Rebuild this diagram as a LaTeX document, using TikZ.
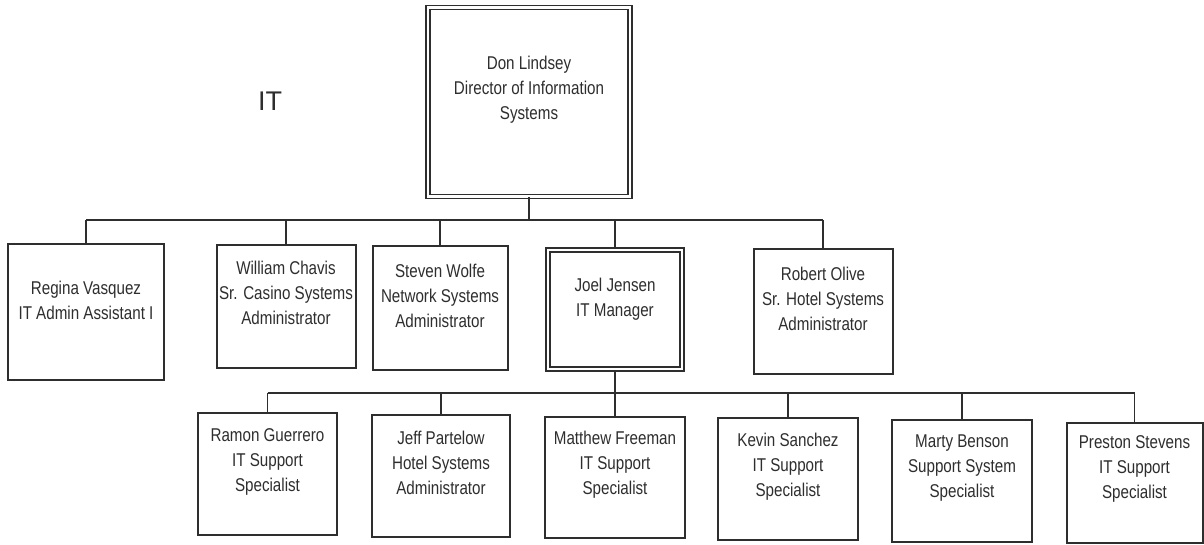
\documentclass[tikz,border=0pt]{standalone}
\usepackage{fontspec}
\newfontfamily\narrowsans[FakeStretch=0.82]{Liberation Sans}
\newfontfamily\plainsans{Liberation Sans}
\definecolor{ink}{HTML}{2E2E2E}
\begin{document}
\begin{tikzpicture}[x=1pt,y=-1pt,
  box/.style={draw=ink, line width=2pt, rectangle, inner sep=0pt},
  boss/.style={draw=ink, line width=1.7pt, double=white, double distance=2.4pt, rectangle, inner sep=0pt},
  txt/.style={align=center, inner sep=0pt, text=ink, font=\narrowsans\fontsize{18.5}{25}\selectfont},
  conn/.style={draw=ink, line width=1.7pt}]
\fill[white] (0,0) rectangle (1204,544);
\useasboundingbox (0,0) rectangle (1204,544);

% department title
\node[text=ink, font=\plainsans\fontsize{27}{30}\selectfont, inner sep=0pt] (dept) at (270,101) {IT};

% director
\node[boss, minimum width=202pt, minimum height=189pt] (don) at (529,102) {};
\node[txt] (dontxt) at (529,90) {Don Lindsey\\Director of Information\\Systems};

% second row
\node[box, minimum width=156pt, minimum height=136pt] (regina) at (86,312) {};
\node[txt] (reginatxt) at (86,300) {Regina Vasquez\\IT Admin Assistant I};

\node[box, minimum width=139pt, minimum height=123pt] (william) at (286,306.5) {};
\node[txt] (williamtxt) at (286,293) {William Chavis\\Sr. Casino Systems\\Administrator};

\node[box, minimum width=135pt, minimum height=124pt] (steven) at (440,308) {};
\node[txt] (steventxt) at (440,296) {Steven Wolfe\\Network Systems\\Administrator};

\node[boss, minimum width=134pt, minimum height=119pt] (joel) at (615,309.5) {};
\node[txt] (joeltxt) at (615,299) {Joel Jensen\\IT Manager};

\node[box, minimum width=139pt, minimum height=125pt] (robert) at (823,311.5) {};
\node[txt] (roberttxt) at (823,299) {Robert Olive\\Sr. Hotel Systems\\Administrator};

% third row
\node[box, minimum width=139pt, minimum height=122pt] (ramon) at (267.5,474) {};
\node[txt] (ramontxt) at (267.5,462) {Ramon Guerrero\\IT Support\\Specialist};

\node[box, minimum width=138pt, minimum height=122pt] (jeff) at (441,476) {};
\node[txt] (jefftxt) at (441,463) {Jeff Partelow\\Hotel Systems\\Administrator};

\node[box, minimum width=140pt, minimum height=121pt] (matthew) at (615,477.5) {};
\node[txt] (matthewtxt) at (615,465) {Matthew Freeman\\IT Support\\Specialist};

\node[box, minimum width=140pt, minimum height=122pt] (kevin) at (788,479) {};
\node[txt] (kevintxt) at (788,467) {Kevin Sanchez\\IT Support\\Specialist};

\node[box, minimum width=140pt, minimum height=122pt] (marty) at (962,481) {};
\node[txt] (martytxt) at (962,468) {Marty Benson\\Support System\\Specialist};

\node[box, minimum width=136pt, minimum height=120pt] (preston) at (1134.5,482.5) {};
\node[txt] (prestontxt) at (1134.5,469) {Preston Stevens\\IT Support\\Specialist};

% reporting lines: director to second row
\coordinate (busA) at (0,220);
\draw[conn] (don.south) -- (don.south |- busA);
\draw[conn] (regina.north |- busA) -- (robert.north |- busA);
\foreach \n in {regina,william,steven,joel,robert}
  \draw[conn] (\n.north) -- (\n.north |- busA);

% reporting lines: IT manager to third row
\coordinate (busB) at (0,393);
\draw[conn] (joel.south) -- (joel.south |- busB);
\draw[conn] (ramon.north |- busB) -- (preston.north |- busB);
\foreach \n in {ramon,jeff,matthew,kevin,marty,preston}
  \draw[conn] (\n.north) -- (\n.north |- busB);
\end{tikzpicture}
\end{document}
